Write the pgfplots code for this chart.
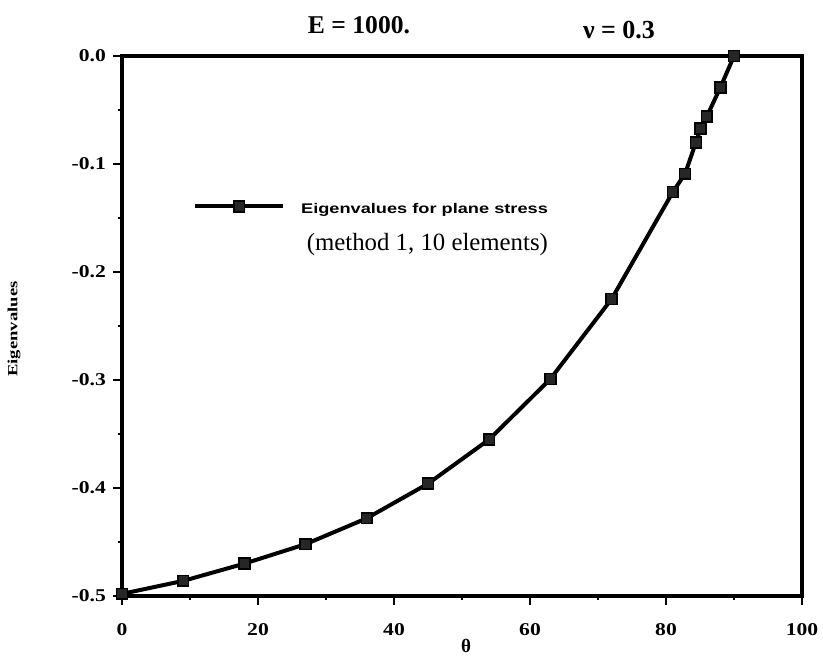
\documentclass[border=0pt]{standalone}
\usepackage{graphicx}
\usepackage{pgfplots}
\pgfplotsset{compat=1.18}
\usepackage{fontspec}
\setmainfont{Liberation Serif}
\newfontfamily\legsans{Liberation Sans}

% eigenvalue versus angle, plane stress, method 1 with 10 elements
\pgfplotstableread{
theta  eig
0      -0.498
9      -0.486
18     -0.470
27     -0.452
36     -0.428
45     -0.396
54     -0.355
63     -0.299
72     -0.225
81     -0.126
82.8   -0.109
84.4   -0.080
85.1   -0.067
86.0   -0.056
88.0   -0.029
90.0    0.000
}\eigdata

\begin{document}
\begin{tikzpicture}
\path[use as bounding box] (-61pt,-29.5pt) rectangle (350.5pt,298pt);
\begin{axis}[
  at={(0pt,0pt)}, anchor=south west,
  scale only axis,
  width=340pt, height=270pt,
  xmin=0, xmax=100, ymin=-0.5, ymax=0,
  axis line style={line width=1.8pt},
  xtick={0,20,...,100}, minor xtick={10,30,...,90},
  ytick={-0.5,-0.4,...,0}, minor ytick={-0.45,-0.35,...,-0.05},
  tick align=outside,
  xtick pos=bottom, ytick pos=left,
  major tick length=4.5pt, minor tick length=2pt,
  every tick/.style={black, line width=1.2pt},
  /pgf/number format/assume math mode=true,
  ticklabel style={font=\bfseries\fontsize{9}{10}\selectfont},
  xticklabel={\scalebox{1.2}[1]{\pgfmathprintnumber{\tick}}},
  yticklabel={\scalebox{1.2}[1]{\pgfmathprintnumber[fixed, fixed zerofill, precision=1]{\tick}}},
  xticklabel style={yshift=-5.5pt},
  legend style={draw=none, fill=none, inner sep=0pt, at={(axis cs:10.4,-0.126)}, anchor=north west, column sep=6pt},
  legend cell align=right,
  legend image code/.code={
    \draw[mark repeat=2, mark phase=2, #1] plot coordinates {(0pt,0pt) (22pt,0pt) (44pt,0pt)};
  },
]
\addplot[black, line width=2pt, mark=square*, mark size=2.7pt,
         mark options={solid, fill=black!85, line width=0.8pt}]
  table[x=theta, y=eig] {\eigdata};
\addlegendentry{\begin{tabular}[t]{@{}r@{}}{\legsans\bfseries\fontsize{7}{8}\selectfont\scalebox{1.3}[1]{Eigenvalues for plane stress}}\\[6.5pt]
  {\fontsize{12.4}{14}\selectfont (method 1, 10 elements)}\end{tabular}}
\end{axis}
% titles and axis labels
\node[font=\bfseries\fontsize{12.8}{14}\selectfont] at (118.5pt,285.5pt) {E = 1000.};
\node[font=\bfseries\fontsize{13}{14}\selectfont] at (248.5pt,283.2pt) {ν = 0.3};
\node[font=\bfseries\fontsize{7}{8}\selectfont, rotate=90] at (-54pt,133.5pt) {\scalebox{1.33}[1]{Eigenvalues}};
\node[font=\bfseries\fontsize{9.5}{10}\selectfont] at (172pt,-24.8pt) {θ};
\end{tikzpicture}
\end{document}
